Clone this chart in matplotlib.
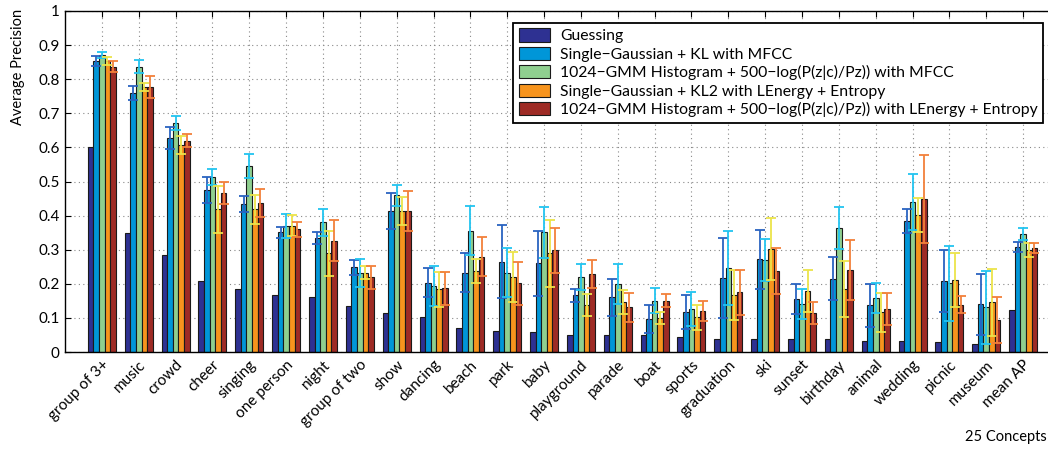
import numpy as np
import matplotlib
matplotlib.use("Agg")
import matplotlib.pyplot as plt

plt.rcParams['font.family'] = ['Lato', 'DejaVu Sans']

concepts = ['group of 3+', 'music', 'crowd', 'cheer', 'singing', 'one person',
            'night', 'group of two', 'show', 'dancing', 'beach', 'park', 'baby',
            'playground', 'parade', 'boat', 'sports', 'graduation', 'ski',
            'sunset', 'birthday', 'animal', 'wedding', 'picnic', 'museum',
            'mean AP']

labels = ['Guessing',
          'Single\u2212Gaussian + KL with MFCC',
          '1024\u2212GMM Histogram + 500\u2212log(P(z|c)/Pz)) with MFCC',
          'Single\u2212Gaussian + KL2 with LEnergy + Entropy',
          '1024\u2212GMM Histogram + 500\u2212log(P(z|c)/Pz)) with LEnergy + Entropy']

guessing = [0.600, 0.350, 0.284, 0.207, 0.184, 0.168, 0.160, 0.135, 0.113, 0.102,
            0.069, 0.063, 0.060, 0.051, 0.049, 0.049, 0.045, 0.039, 0.037, 0.037,
            0.037, 0.033, 0.031, 0.029, 0.023, 0.123]

kl_mfcc = [0.853, 0.759, 0.628, 0.475, 0.434, 0.351, 0.334, 0.248, 0.414, 0.203,
           0.233, 0.264, 0.260, 0.167, 0.160, 0.097, 0.116, 0.217, 0.272, 0.155,
           0.215, 0.137, 0.385, 0.208, 0.140, 0.308]
kl_mfcc_err = [0.014, 0.021, 0.033, 0.039, 0.023, 0.016, 0.017, 0.022, 0.052, 0.043,
               0.057, 0.107, 0.095, 0.019, 0.053, 0.042, 0.050, 0.118, 0.087, 0.044,
               0.063, 0.063, 0.035, 0.090, 0.090, 0.016]

gmm_mfcc = [0.871, 0.837, 0.671, 0.514, 0.545, 0.370, 0.380, 0.233, 0.459, 0.194,
            0.355, 0.233, 0.351, 0.220, 0.200, 0.150, 0.126, 0.246, 0.270, 0.141,
            0.363, 0.158, 0.440, 0.201, 0.131, 0.347]
gmm_mfcc_err = [0.008, 0.019, 0.020, 0.024, 0.035, 0.035, 0.040, 0.041, 0.031, 0.058,
                0.072, 0.072, 0.075, 0.039, 0.059, 0.037, 0.050, 0.109, 0.061, 0.043,
                0.061, 0.045, 0.083, 0.109, 0.108, 0.018]

kl2_len = [0.853, 0.778, 0.606, 0.418, 0.418, 0.370, 0.289, 0.233, 0.414, 0.184,
           0.238, 0.221, 0.289, 0.138, 0.147, 0.100, 0.102, 0.167, 0.302, 0.178,
           0.184, 0.116, 0.401, 0.211, 0.146, 0.300]
kl2_len_err = [0.012, 0.012, 0.026, 0.069, 0.043, 0.031, 0.065, 0.018, 0.041, 0.051,
               0.036, 0.073, 0.097, 0.032, 0.036, 0.017, 0.037, 0.073, 0.092, 0.062,
               0.082, 0.057, 0.050, 0.078, 0.098, 0.021]

gmm_len = [0.836, 0.776, 0.620, 0.467, 0.438, 0.360, 0.326, 0.219, 0.413, 0.187,
           0.279, 0.201, 0.299, 0.229, 0.131, 0.150, 0.121, 0.175, 0.238, 0.115,
           0.240, 0.126, 0.450, 0.139, 0.094, 0.304]
gmm_len_err = [0.016, 0.032, 0.019, 0.033, 0.041, 0.022, 0.060, 0.034, 0.059, 0.049,
               0.057, 0.062, 0.066, 0.040, 0.043, 0.019, 0.030, 0.066, 0.067, 0.032,
               0.088, 0.048, 0.129, 0.026, 0.067, 0.015]

series = [guessing, kl_mfcc, gmm_mfcc, kl2_len, gmm_len]
errors = [None, kl_mfcc_err, gmm_mfcc_err, kl2_len_err, gmm_len_err]
bar_colors = ['#2e3192', '#0096d8', '#8fcf8f', '#f7941d', '#9e2b25']
err_colors = [None, '#2a63c0', '#22c4f0', '#ece44a', '#f2803a']

W, H = 1048, 449
fig = plt.figure(figsize=(W / 100, H / 100), dpi=100)
# axes run past the right edge of the figure
ax = fig.add_axes([65 / W, 1 - 352 / H, 995 / W, 341 / H])

x = np.arange(1, len(concepts) + 1)
bw = 0.152
for i, (vals, err) in enumerate(zip(series, errors)):
    pos = x + (i - 2) * bw
    ax.bar(pos, vals, width=bw, color=bar_colors[i], edgecolor='#1a1a1a',
           linewidth=0.8, label=labels[i], zorder=2)
    if err is not None:
        ax.errorbar(pos, vals, yerr=err, fmt='none', ecolor=err_colors[i],
                    elinewidth=1.3, capsize=3.6, capthick=1.3, zorder=3)

ax.set_xlim(0, 27)
ax.set_ylim(0, 1)
ax.set_yticks(np.arange(0, 1.01, 0.1))
ax.set_yticklabels(['0', '0.1', '0.2', '0.3', '0.4', '0.5', '0.6', '0.7', '0.8', '0.9', '1'])
ax.set_xticks(x)
ax.set_xticklabels(concepts, rotation=45, ha='right', rotation_mode='anchor')
ax.tick_params(direction='in', length=4, width=0.8, labelsize=11,
               top=True, right=True, pad=4)
ax.grid(True, linestyle=(0, (1, 3)), color='#888888', linewidth=0.8, zorder=0)
ax.set_axisbelow(True)
for s in ax.spines.values():
    s.set_linewidth(1.0)

fig.text(18 / W, 1 - 67 / H, 'Average Precision', rotation=90,
         ha='center', va='center', fontsize=10.5)
fig.text(965 / W, 1 - 437 / H, '25 Concepts', ha='left', va='center', fontsize=10.5)

leg = ax.legend(loc='upper right', bbox_to_anchor=(1043 / W, 1 - 23 / H),
                bbox_transform=fig.transFigure, fontsize=11.3, frameon=True,
                fancybox=False, framealpha=1, edgecolor='black',
                handlelength=2.0, handleheight=0.9, handletextpad=0.6,
                labelspacing=0.22, borderpad=0.35, borderaxespad=0)
leg.get_frame().set_linewidth(1.3)

fig.savefig('out.png', dpi=100)
